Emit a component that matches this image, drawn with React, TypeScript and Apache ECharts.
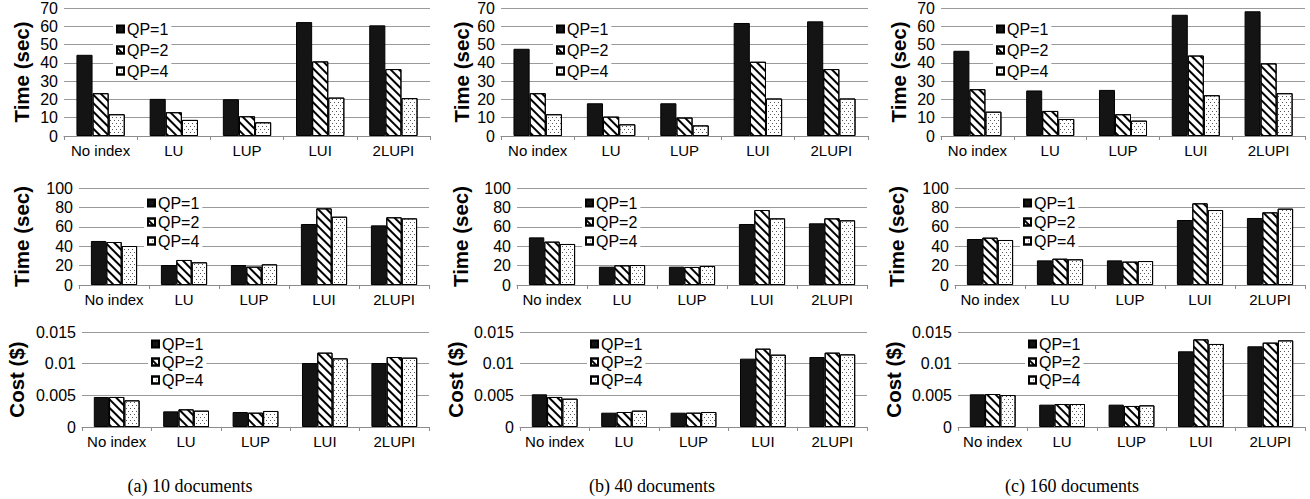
import React, { useEffect, useRef } from "react";
import * as echarts from "echarts";

const categories = ["No index", "LU", "LUP", "LUI", "2LUPI"];
const seriesNames = ["QP=1", "QP=2", "QP=4"];
const captions = ["(a) 10 documents", "(b) 40 documents", "(c) 160 documents"];

// Row 1: Time (sec), per column (10, 40, 160 documents)
const time1_10 = {
  qp1: [44.4, 20.3, 20.1, 62.3, 60.5],
  qp2: [23.4, 13.0, 10.8, 40.8, 36.6],
  qp4: [11.9, 8.8, 7.5, 21.0, 20.7],
};
const time1_40 = {
  qp1: [47.7, 17.9, 17.9, 61.8, 62.7],
  qp2: [23.4, 10.6, 10.1, 40.6, 36.6],
  qp4: [11.9, 6.4, 5.8, 20.5, 20.5],
};
const time1_160 = {
  qp1: [46.6, 24.9, 25.2, 66.3, 68.2],
  qp2: [25.6, 13.7, 11.9, 44.0, 39.7],
  qp4: [13.3, 9.3, 8.4, 22.3, 23.4],
};
// Row 2: Time (sec)
const time2_10 = {
  qp1: [45.4, 20.6, 20.6, 62.9, 61.5],
  qp2: [44.3, 25.8, 18.9, 79.0, 69.8],
  qp4: [40.2, 23.4, 21.3, 70.4, 68.7],
};
const time2_40 = {
  qp1: [49.1, 18.9, 18.9, 62.9, 63.6],
  qp2: [44.7, 20.3, 18.6, 77.3, 68.7],
  qp4: [42.3, 20.6, 19.6, 68.7, 66.7],
};
const time2_160 = {
  qp1: [47.4, 25.4, 25.4, 67.0, 69.1],
  qp2: [48.8, 27.1, 24.1, 84.2, 74.9],
  qp4: [46.4, 26.5, 24.7, 77.3, 78.7],
};
// Row 3: Cost ($)
const cost_10 = {
  qp1: [0.00474, 0.00247, 0.00237, 0.0101, 0.0101],
  qp2: [0.00474, 0.00279, 0.00226, 0.01174, 0.01105],
  qp4: [0.00421, 0.00258, 0.00253, 0.01084, 0.01095],
};
const cost_40 = {
  qp1: [0.00516, 0.00226, 0.00226, 0.01079, 0.01105],
  qp2: [0.00474, 0.00237, 0.00226, 0.01237, 0.01174],
  qp4: [0.00447, 0.00258, 0.00237, 0.01142, 0.01147],
};
const cost_160 = {
  qp1: [0.00516, 0.00353, 0.00353, 0.01195, 0.01274],
  qp2: [0.00521, 0.00363, 0.00332, 0.01384, 0.01332],
  qp4: [0.00505, 0.00363, 0.00342, 0.01311, 0.01368],
};

const rowData = [
  [time1_10, time1_40, time1_160],
  [time2_10, time2_40, time2_160],
  [cost_10, cost_40, cost_160],
];
const rowAxis = [
  { name: "Time (sec)", max: 70, interval: 10 },
  { name: "Time (sec)", max: 100, interval: 20 },
  { name: "Cost ($)", max: 0.015, interval: 0.005 },
];

// layout (pixels)
const rowTop = [8, 188, 332];
const rowHeight = [128, 97, 95];
const colLeft = [
  [64, 501, 941],
  [79, 517, 955],
  [82, 520, 958],
];
const colRight = [
  [430, 868, 1305],
  [429, 867, 1305],
  [429, 867, 1305],
];
const nameGaps = [
  [32, 29, 32],
  [47, 46, 48],
  [55, 54, 54],
];
const legendLeft = [
  [113, 553, 993],
  [144, 582, 1020],
  [148, 587, 1025],
];
const legendTop = [19, 193, 334];
const legendGap = [5, 3, 2];
const captionX = [190, 652, 1072];

const FONT = "'Liberation Sans', Arial, Helvetica, sans-serif";

const styles = [
  { color: "#141414", decal: undefined },
  {
    color: "#ffffff",
    decal: {
      symbol: "rect",
      symbolSize: 1,
      color: "#000000",
      backgroundColor: "#ffffff",
      dashArrayX: [1, 0],
      dashArrayY: [2, 3.2],
      rotation: Math.PI / 4,
    },
  },
  {
    color: "#ffffff",
    decal: {
      symbol: "rect",
      symbolSize: 1,
      color: "#555555",
      backgroundColor: "#ffffff",
      dashArrayX: [[1, 2.5], [0, 1.75, 1, 0.75]],
      dashArrayY: [1, 1.8],
      rotation: 0,
    },
  },
];

export default function App() {
  const ref = useRef<HTMLDivElement>(null);
  useEffect(() => {
    if (!ref.current) return;
    const chart = echarts.init(ref.current, undefined, { renderer: "svg" });
    const grid: any[] = [];
    const xAxis: any[] = [];
    const yAxis: any[] = [];
    const series: any[] = [];
    const legend: any[] = [];
    for (let r = 0; r < 3; r++) {
      for (let c = 0; c < 3; c++) {
        const idx = r * 3 + c;
        grid.push({
          left: colLeft[r][c],
          top: rowTop[r],
          width: colRight[r][c] - colLeft[r][c],
          height: rowHeight[r],
          containLabel: false,
        });
        xAxis.push({
          type: "category",
          gridIndex: idx,
          data: categories,
          axisLine: { show: true, lineStyle: { color: "#8c8c8c", width: 1 } },
          axisTick: { show: true, length: 4, lineStyle: { color: "#8c8c8c" } },
          axisLabel: { color: "#000", fontSize: 15, fontFamily: FONT, margin: 7, interval: 0 },
          splitLine: { show: false },
        });
        yAxis.push({
          type: "value",
          gridIndex: idx,
          min: 0,
          max: rowAxis[r].max,
          interval: rowAxis[r].interval,
          name: rowAxis[r].name,
          nameLocation: "middle",
          nameGap: nameGaps[r][c],
          nameRotate: 90,
          nameTextStyle: { fontSize: 20.5, fontWeight: "bold", color: "#000", fontFamily: FONT },
          axisLine: { show: false },
          axisTick: { show: false },
          axisLabel: { color: "#000", fontSize: 16, fontFamily: FONT, margin: 6 },
          splitLine: { show: true, lineStyle: { color: "#9a9a9a", width: 1 } },
        });
        const d = rowData[r][c];
        const vals = [d.qp1, d.qp2, d.qp4];
        for (let s = 0; s < 3; s++) {
          series.push({
            type: "bar",
            name: seriesNames[s],
            xAxisIndex: idx,
            yAxisIndex: idx,
            data: vals[s],
            barGap: "0%",
            barCategoryGap: "34%",
            itemStyle: {
              color: styles[s].color,
              borderColor: "#000",
              borderWidth: 1,
              decal: styles[s].decal,
            },
          });
        }
        legend.push({
          data: seriesNames,
          orient: "vertical",
          left: legendLeft[r][c],
          top: legendTop[r],
          itemWidth: 7,
          itemHeight: 7,
          itemGap: legendGap[r],
          padding: [2, 3, 2, 3],
          backgroundColor: "#ffffff",
          selectedMode: false,
          icon: "rect",
          textStyle: { fontSize: 16, color: "#000", fontFamily: FONT, padding: [0, 0, 0, -2] },
        });
      }
    }
    const graphic = captions.map((t, i) => ({
      type: "text",
      x: captionX[i],
      y: 477,
      style: {
        text: t,
        fill: "#000",
        font: "18px 'Liberation Serif', 'Times New Roman', serif",
        textAlign: "center",
      },
    }));
    chart.setOption({
      animation: false,
      backgroundColor: "#ffffff",
      grid,
      xAxis,
      yAxis,
      series,
      legend,
      graphic,
    });
    return () => chart.dispose();
  }, []);
  return (
    <div
      ref={ref}
      style={{ position: "fixed", left: 0, top: 0, width: 1310, height: 499 }}
    />
  );
}
